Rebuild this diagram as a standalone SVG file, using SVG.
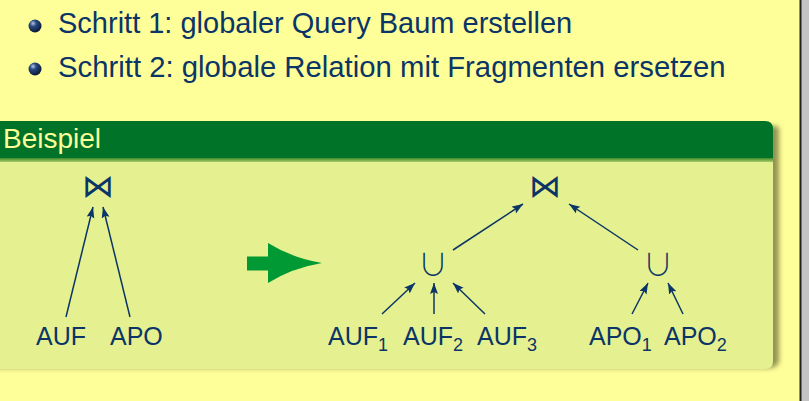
<svg xmlns="http://www.w3.org/2000/svg" width="809" height="401" viewBox="0 0 809 401">
<defs>
<style>
.t{font-family:"Liberation Sans",Arial,sans-serif;fill:#0b3566}
.sym{font-family:"Noto Sans CJK JP","DejaVu Sans",sans-serif;fill:#0b3566}
.cup{font-family:"Noto Sans CJK JP","DejaVu Sans",sans-serif;font-weight:300;fill:#0b3566}
.e{stroke:#0b3566;stroke-width:1.5;fill:none;marker-end:url(#ah)}
</style>
<marker id="ah" markerUnits="userSpaceOnUse" markerWidth="12" markerHeight="10" refX="11" refY="4" orient="auto">
<path d="M0,0 L11,4 L0,8 L2,4 z" fill="#0b3566"/>
</marker>
<radialGradient id="ball" cx="0.35" cy="0.3" r="0.7">
<stop offset="0" stop-color="#b8c8e8"/>
<stop offset="0.35" stop-color="#2a4a80"/>
<stop offset="1" stop-color="#0a1a38"/>
</radialGradient>
<linearGradient id="hdrb" x1="0" y1="0" x2="0" y2="1">
<stop offset="0" stop-color="#3d8a2c"/>
<stop offset="1" stop-color="#a8cc6a"/>
</linearGradient>
<filter id="sh" x="-5%" y="-5%" width="115%" height="130%">
<feGaussianBlur stdDeviation="2.5"/>
</filter>
</defs>
<rect x="0" y="0" width="809" height="401" fill="#ffff99"/>
<rect x="800" y="0" width="9" height="401" fill="#c4c4c4"/>
<rect x="799.5" y="0" width="2" height="401" fill="#222"/>

<g id="bullets">
<circle cx="35" cy="26" r="6.5" fill="url(#ball)"/>
<text class="t" x="58" y="33" font-size="29">Schritt 1: globaler Query Baum erstellen</text>
<circle cx="35" cy="69" r="6.5" fill="url(#ball)"/>
<text class="t" x="58" y="77" font-size="29.3">Schritt 2: globale Relation mit Fragmenten ersetzen</text>
</g>

<g id="block">
<path d="M-10,127 L-10,368 L768,368 Q779,368 779,360 L779,130 Q779,126 776,126 Z" fill="#6e6e3a" opacity="0.75" filter="url(#sh)"/>
<path d="M-10,121 L765,121 Q773,121 773,129 L773,361 Q773,369 765,369 L-10,369 Z" fill="#e5f190"/>
<path d="M-10,121 L765,121 Q773,121 773,129 L773,158 L-10,158 Z" fill="#007328"/>
<rect x="-10" y="158" width="783" height="4" fill="url(#hdrb)"/>
<text x="3" y="148" font-size="28" font-family="Liberation Sans,Arial,sans-serif" fill="#ffff99">Beispiel</text>
</g>

<g id="left-tree">
<g id="n-join1"><text class="sym" x="98" y="197" font-size="32" text-anchor="middle">⋈</text></g>
<g id="n-auf"><text class="t" x="36" y="345" font-size="25">AUF</text></g>
<g id="n-apo"><text class="t" x="110" y="345" font-size="25">APO</text></g>
</g>

<g id="transform-arrow">
<rect x="247" y="256.5" width="22" height="14" fill="#009933"/>
<path d="M268,243 Q292,258 322,263 Q292,268 268,283 Z" fill="#009933"/>
</g>

<g id="right-tree">
<g id="n-join2"><text class="sym" x="545" y="197" font-size="32" text-anchor="middle">⋈</text></g>
<g id="n-union1"><text class="cup" x="433" y="275" font-size="30" text-anchor="middle">∪</text></g>
<g id="n-union2"><text class="cup" x="658" y="275" font-size="30" text-anchor="middle">∪</text></g>
<g id="n-auf1"><text class="t" x="328" y="345" font-size="25">AUF<tspan font-size="18" dy="6">1</tspan></text></g>
<g id="n-auf2"><text class="t" x="403" y="345" font-size="25">AUF<tspan font-size="18" dy="6">2</tspan></text></g>
<g id="n-auf3"><text class="t" x="477" y="345" font-size="25">AUF<tspan font-size="18" dy="6">3</tspan></text></g>
<g id="n-apo1"><text class="t" x="589" y="345" font-size="25">APO<tspan font-size="18" dy="6">1</tspan></text></g>
<g id="n-apo2"><text class="t" x="664" y="345" font-size="25">APO<tspan font-size="18" dy="6">2</tspan></text></g>
</g>

<g id="connectors">
<line class="e" x1="66" y1="317" x2="93" y2="207"/>
<line class="e" x1="130" y1="317" x2="103" y2="207"/>
<line class="e" x1="453" y1="250" x2="523" y2="204"/>
<line class="e" x1="638" y1="250" x2="569" y2="204"/>
<line class="e" x1="382" y1="314" x2="415" y2="283"/>
<line class="e" x1="434" y1="314" x2="434" y2="283"/>
<line class="e" x1="485" y1="314" x2="453" y2="283"/>
<line class="e" x1="632" y1="314" x2="648" y2="283"/>
<line class="e" x1="683" y1="314" x2="668" y2="283"/>
</g>
</svg>
